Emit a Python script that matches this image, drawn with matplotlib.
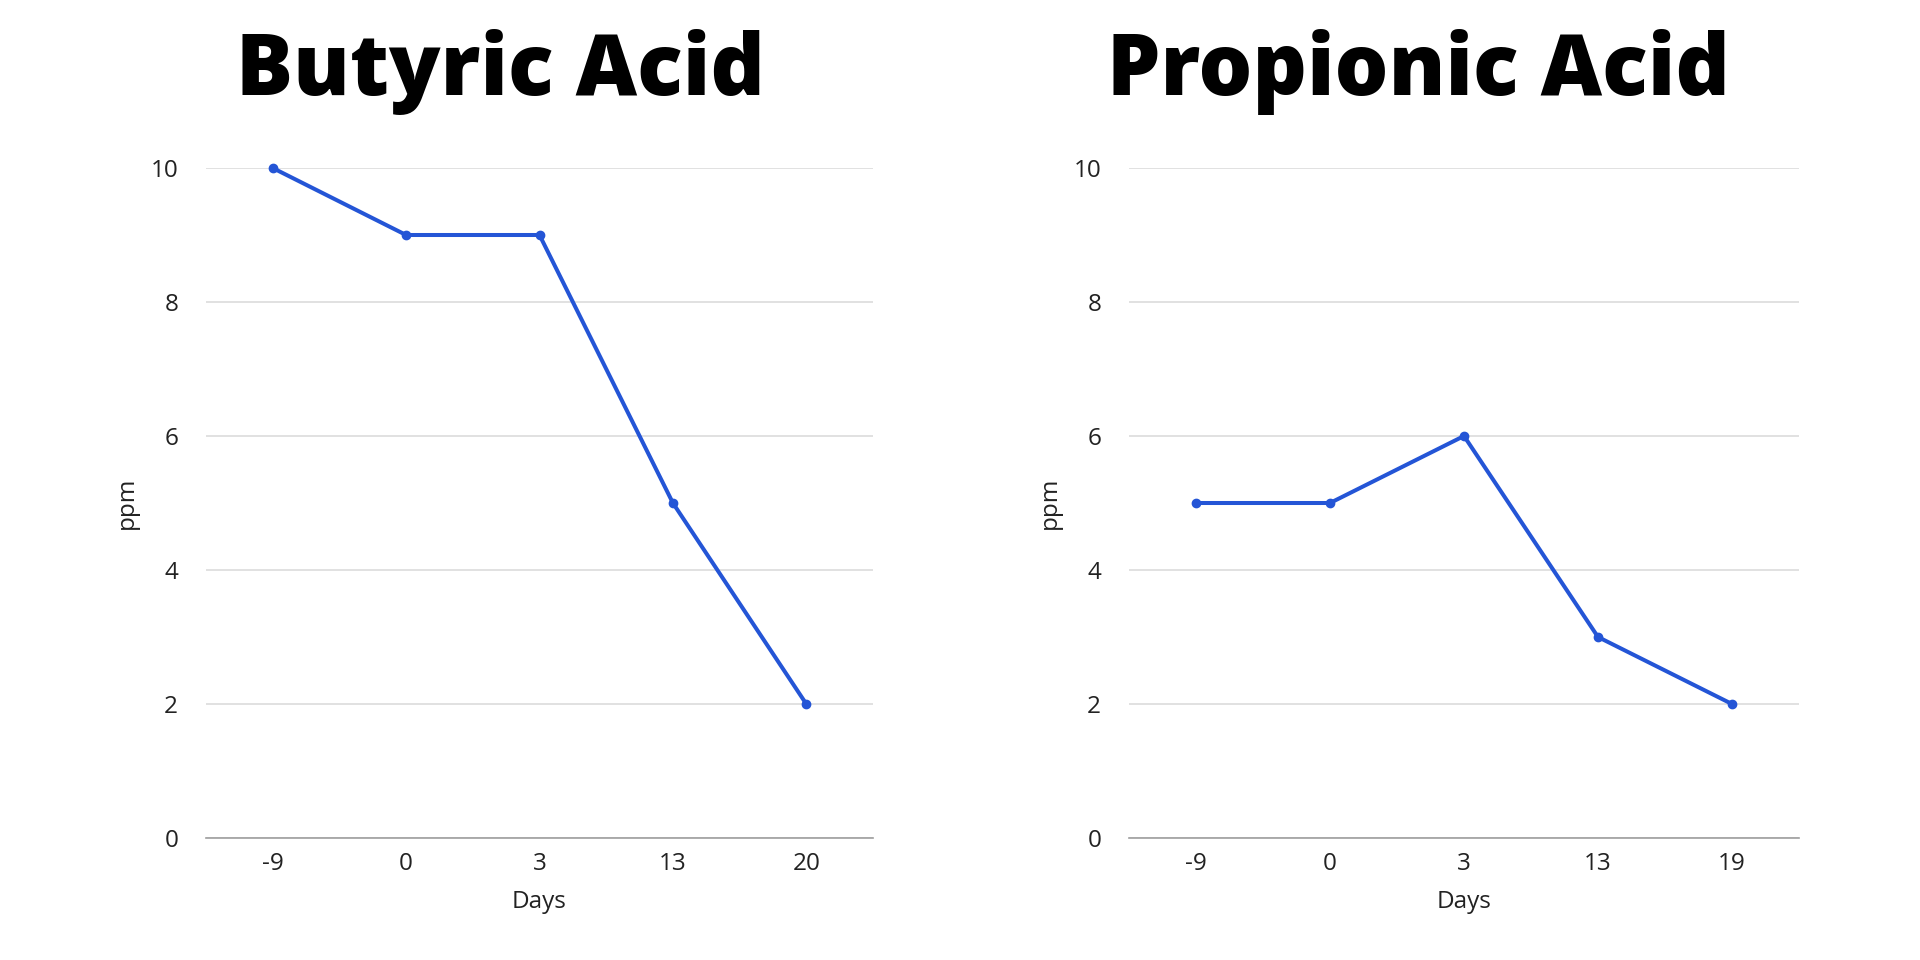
import matplotlib
matplotlib.use("Agg")
import matplotlib.pyplot as plt

butyric_days = ["-9", "0", "3", "13", "20"]
butyric_ppm = [10, 9, 9, 5, 2]
propionic_days = ["-9", "0", "3", "13", "19"]
propionic_ppm = [5, 5, 6, 3, 2]
titles = ["Butyric Acid", "Propionic Acid"]
yticks = [0, 2, 4, 6, 8, 10]

plt.rcParams['font.family'] = ['Open Sans', 'DejaVu Sans']
LINE = "#2455D6"
TXT = '#222222'

fig = plt.figure(figsize=(19.2, 9.6), dpi=100)
W, H = 1920, 960
axes_px = [(206, 873), (1129, 1799)]
top, bottom = 168, 838
title_x = [500, 1418]

for (x0, x1), tx, title, days, vals in zip(axes_px, title_x, titles,
                                            [butyric_days, propionic_days],
                                            [butyric_ppm, propionic_ppm]):
    ax = fig.add_axes([x0 / W, 1 - bottom / H, (x1 - x0) / W, (bottom - top) / H])
    xs = list(range(len(days)))
    ax.plot(xs, vals, color=LINE, lw=2.9, marker='o', ms=6, solid_joinstyle='round',
            zorder=3, clip_on=False)
    ax.set_xlim(-0.5, len(days) - 0.5)
    ax.set_ylim(0, 10)
    ax.set_yticks(yticks)
    ax.set_xticks(xs)
    ax.set_xticklabels(days)
    ax.grid(axis='y', color='#d9d9d9', lw=1.1)
    ax.set_axisbelow(True)
    for s in ['top', 'right', 'left']:
        ax.spines[s].set_visible(False)
    ax.spines['bottom'].set_color('#9e9e9e')
    ax.spines['bottom'].set_linewidth(1.2)
    ax.tick_params(axis='both', length=0, labelsize=17.5, colors=TXT)
    ax.tick_params(axis='y', pad=20)
    ax.tick_params(axis='x', pad=10)
    ax.set_xlabel("Days", fontsize=17.5, color=TXT, labelpad=10)
    ax.set_ylabel("ppm", fontsize=17.5, color=TXT, labelpad=8)
    fig.text(tx / W, 1 - 72 / H, title, ha='center', va='center', fontsize=61,
             fontweight='heavy', color='black')

fig.savefig("out.png", dpi=100, facecolor='white')
